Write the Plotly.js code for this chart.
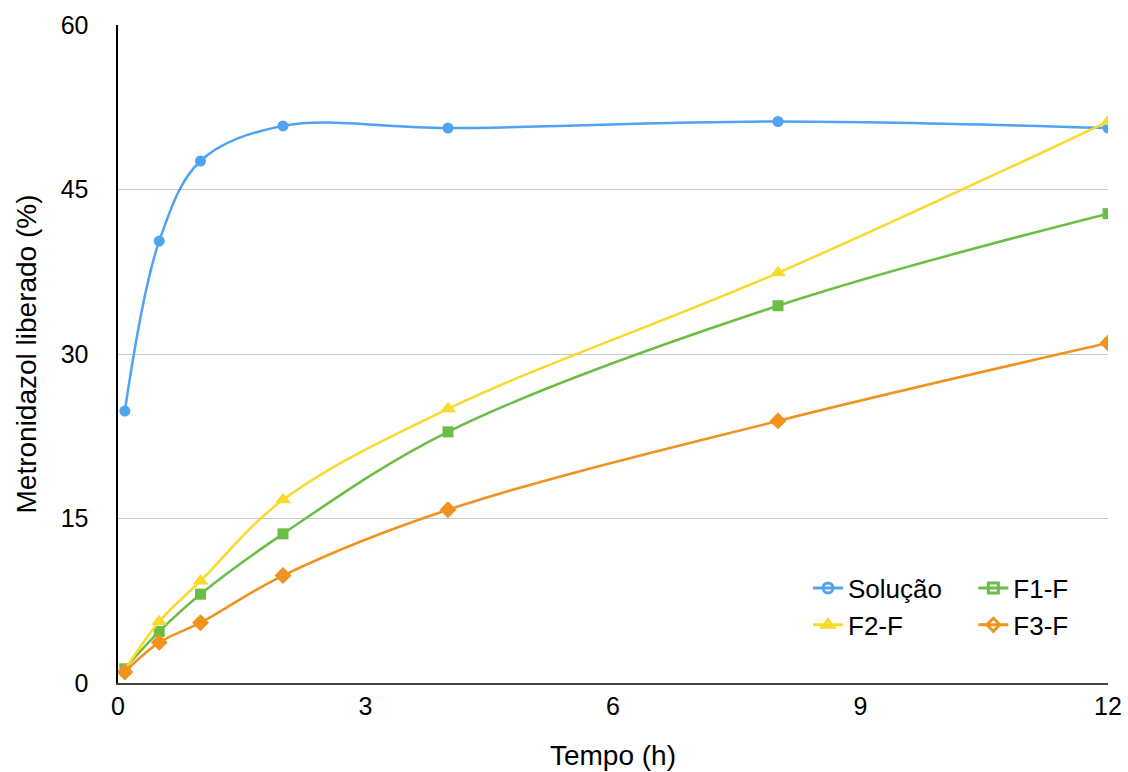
<!DOCTYPE html>
<html><head><meta charset="utf-8">
<script src="https://cdn.plot.ly/plotly-3.0.1.min.js"></script>
<style>body{margin:0;background:#fff}#c{width:1128px;height:772px}</style>
</head><body><div id="c"></div>
<script>
const tempo = [0.083, 0.5, 1, 2, 4, 8, 12];
const solucao = [24.8, 40.3, 47.6, 50.8, 50.6, 51.2, 50.6];
const f1f = [1.3, 4.7, 8.1, 13.6, 22.9, 34.4, 42.8];
const f2f = [1.2, 5.6, 9.3, 16.7, 25.0, 37.4, 51.2];
const f3f = [1.0, 3.7, 5.5, 9.8, 15.8, 23.9, 31.0];
const names = ['Solução', 'F1-F', 'F2-F', 'F3-F'];
const seriesList = [solucao, f1f, f2f, f3f];
const colors = ['#4FA3F0', '#6ABD45', '#F8DA2C', '#EF921E'];
const symbols = ['circle', 'square', 'triangle-up', 'diamond'];
const sizes = [11, 11, 14, 13];
const legendIds = ['legend', 'legend2', 'legend', 'legend2'];
const traces = [];
seriesList.forEach((ys, i) => {
  traces.push({x: tempo, y: ys, type: 'scatter', mode: 'lines+markers', showlegend: false,
    line: {color: colors[i], width: 2.5, shape: 'spline', smoothing: 1.0},
    marker: {color: colors[i], symbol: symbols[i], size: sizes[i]}, hoverinfo: 'x+y'});
});
seriesList.forEach((ys, i) => {
  traces.push({x: [null], y: [null], type: 'scatter', mode: 'lines+markers', name: names[i],
    legend: legendIds[i],
    line: {color: colors[i], width: 3},
    marker: {color: colors[i], symbol: symbols[i] + '-open', size: 10, line: {width: 3, color: colors[i]}}});
});
const legendBase = {orientation: 'v', yanchor: 'top', xanchor: 'left', font: {size: 26},
  bgcolor: 'rgba(0,0,0,0)', itemwidth: 30, tracegroupgap: 0, traceorder: 'normal'};
const layout = {
  width: 1128, height: 772,
  margin: {l: 118, r: 20, t: 25, b: 89, autoexpand: false},
  paper_bgcolor: '#fff', plot_bgcolor: '#fff',
  font: {family: 'Liberation Sans, Arial, sans-serif', color: '#000', size: 26},
  xaxis: {range: [0, 12], tickvals: [0, 3, 6, 9, 12], showgrid: false, zeroline: false,
    showline: true, linecolor: '#444', linewidth: 2, ticks: '', ticklen: 0, automargin: false,
    tickfont: {size: 25}, title: {text: 'Tempo (h)', font: {size: 28}, standoff: 26}},
  yaxis: {range: [0, 60], tickvals: [0, 15, 30, 45, 60], showgrid: true, gridcolor: '#c8c8c8', gridwidth: 1,
    zeroline: false, showline: true, linecolor: '#000', linewidth: 2.5, ticks: '', automargin: false,
    ticklabelstandoff: 22,
    tickfont: {size: 25}, title: {text: 'Metronidazol liberado (%)', font: {size: 28}, standoff: 16}},
  legend: Object.assign({}, legendBase, {x: 0.697, y: 0.180}),
  legend2: Object.assign({}, legendBase, {x: 0.864, y: 0.180})
};
Plotly.newPlot('c', traces, layout, {displayModeBar: false, staticPlot: true});
</script></body></html>
